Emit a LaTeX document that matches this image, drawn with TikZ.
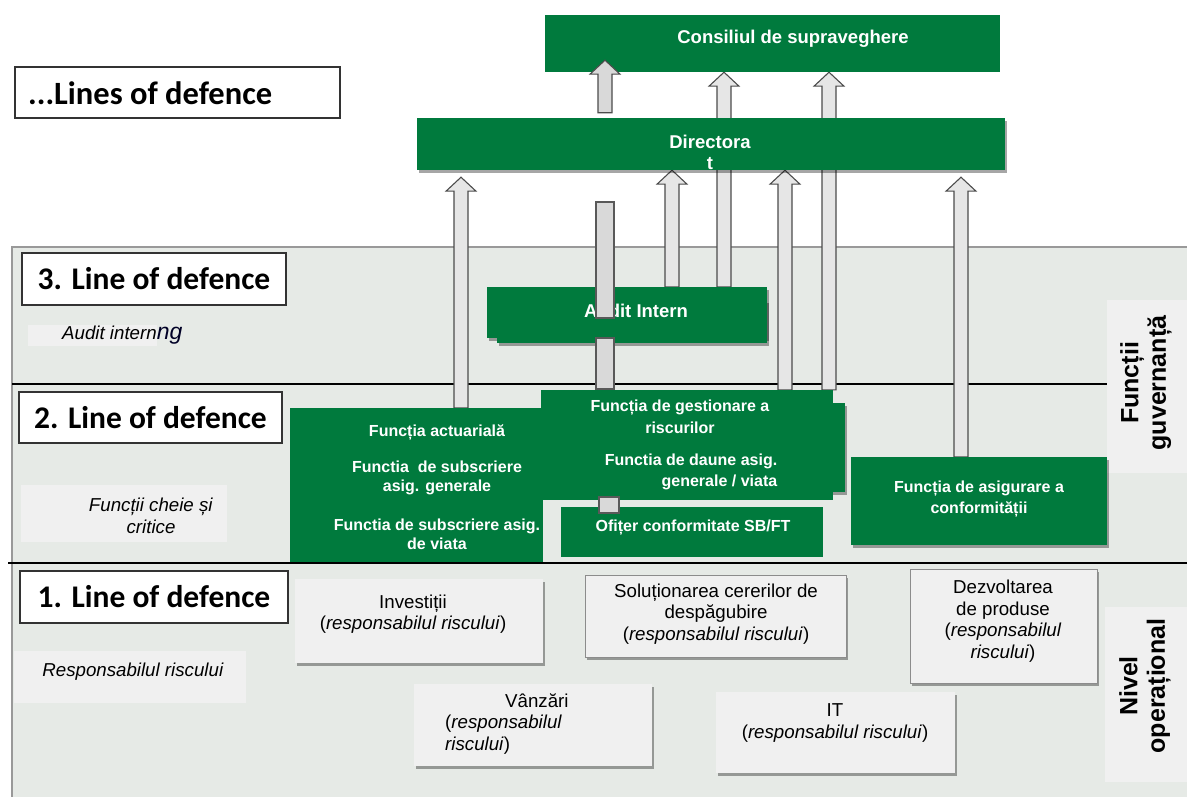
\documentclass[tikz,border=0pt]{standalone}
\usepackage{fontspec}
\setmainfont{Liberation Sans}
\newfontfamily\calib{Carlito}
\usetikzlibrary{calc,shadows}
\definecolor{ldgreen}{HTML}{007A3D}
\definecolor{panelgray}{HTML}{E6EAE6}
\definecolor{lblgray}{HTML}{F0F0F0}
\definecolor{shaftgray}{HTML}{E6E6E6}
\pgfdeclarelayer{panel}
\pgfdeclarelayer{arrows}
\pgfsetlayers{panel,arrows,main}
% block arrow: [style]{x}{from}{to}{from gap}{tip gap}
\newcommand\blkarrow[6][]{%
	\draw[blkarr,#1] let \p1=(#3.north), \p2=(#4.south) in
		({(#2-7)*1pt},{\y1+(#5)*1pt}) -- ({(#2-7)*1pt},{\y2-(#6+14)*1pt}) -- ({(#2-15)*1pt},{\y2-(#6+14)*1pt})
		-- ({#2*1pt},{\y2-(#6)*1pt}) -- ({(#2+15)*1pt},{\y2-(#6+14)*1pt}) -- ({(#2+7)*1pt},{\y2-(#6+14)*1pt})
		-- ({(#2+7)*1pt},{\y1+(#5)*1pt}) -- cycle;}
\begin{document}
\begin{tikzpicture}[x=1pt,y=-1pt,line join=miter,
		box/.style 2 args={minimum width=#1pt,minimum height=#2pt,inner sep=0},
		gr/.style={fill=ldgreen},
		lbl/.style={fill=lblgray},
		shd/.style={drop shadow={shadow xshift=2pt,shadow yshift=-3pt,fill=black,opacity=.35}},
		lodbox/.style={draw=black!80,line width=1.2pt,fill=white,font=\calib\bfseries\fontsize{31.5}{34}\selectfont},
		ttl/.style={text=white,font=\bfseries\fontsize{18.5}{21}\selectfont,align=center,inner sep=0},
		gtxt/.style={text=white,font=\bfseries\fontsize{16}{21.5}\selectfont,align=center,inner sep=0},
		btxt/.style={font=\fontsize{18.7}{21.5}\selectfont,align=center,inner sep=0},
		side/.style={rotate=90,font=\bfseries\fontsize{25}{27.5}\selectfont,align=center,inner sep=0},
		blkarr/.style={fill=shaftgray,draw=black!70,line width=1.1pt},
		barst/.style={fill=black!15,draw=black!65,line width=1.2pt}]
	\useasboundingbox (0,0) rectangle (1187,797);
	\begin{pgfonlayer}{panel}
		\fill[panelgray] (12,247) rectangle (1187,797);
		\draw[black!40,line width=1.5pt] (12,797) -- (12,247) -- (1187,247);
		\draw[line width=2pt] (12,384) -- (1107,384);
		\draw[line width=2pt] (8,563) -- (1187,563);
	\end{pgfonlayer}

	% board and management
	\node[gr,box={455}{57}] (cons) at (772.5,43.5) {};
	\node[ttl] (consT) at (793,39) {Consiliul de supraveghere};
	\node[gr,shd,box={588}{52}] (dir) at (711,144) {};
	\node[ttl] (dirT) at (710,152) {Directora\\t};

	% line labels
	\node[lodbox,box={325}{51}] (lod) at (177.5,92.5) {};
	\node[font=\calib\bfseries\fontsize{32.5}{34}\selectfont,anchor=west,inner sep=0] (lodT) at (28,93) {...Lines of defence};
	\node[lodbox,box={264}{52}] (lod3) at (154,279) {3. Line of defence};
	\node[lodbox,box={263}{51}] (lod2) at (150.5,417.5) {2. Line of defence};
	\node[lodbox,box={268}{52}] (lod1) at (154,597) {1. Line of defence};
	\node[lbl,box={129}{21}] (auditlbl) at (92.5,335.5) {};
	\node[btxt,anchor=west] (auditlblT) at (62,335) {\textit{Audit intern}{\fontsize{23}{23}\selectfont\color{black!85!blue}\textit{ng}}};
	\node[lbl,box={206}{57}] (cheie) at (124,513.5) {};
	\node[btxt] (cheieT) at (151,516) {\textit{Funcții cheie și}\\\textit{critice}};
	\node[lbl,box={232}{52}] (resp) at (130,677) {};
	\node[btxt] (respT) at (133,672) {\textit{Responsabilul riscului}};
	\node[lbl,box={80}{173}] (guv) at (1147,386.5) {};
	\node[side] (guvT) at (1146,383) {Funcții\\guvernanță};
	\node[lbl,box={82}{175}] (nivel) at (1146,694.5) {};
	\node[side] (nivelT) at (1145,686) {Nivel\\operațional};

	% 3rd and 2nd line
	\node[gr,shd,box={280}{51}] (audit) at (627,312.5) {};
	\node[gr,shd,box={270}{43}] (auditlo) at (632,321.5) {};
	\node[ttl] (auditT) at (636,311) {Audit Intern};
	\node[gr,box={253}{154}] (actuar) at (416.5,485) {};
	\node[gtxt] (act1) at (437,432) {Funcția actuarială};
	\node[gtxt,font=\bfseries\fontsize{16}{19}\selectfont] (act2) at (437,478) {Functia\ \ de subscriere\\asig. generale};
	\node[gtxt,font=\bfseries\fontsize{16}{19}\selectfont] (act3) at (437,534) {Functia de subscriere asig.\\de viata};
	\node[gr,shd,box={285}{89}] (gestlo) at (702.5,447.5) {};
	\node[gr,box={292}{110}] (gest) at (687,445) {};
	\node[gtxt] (gestT1) at (680,417) {Funcția de gestionare a\\riscurilor};
	\node[gtxt,align=right] (gestT2) at (691,472) {Functia de daune asig.\\generale / viata};
	\node[gr,box={262}{50}] (ofiter) at (692,532) {};
	\node[gtxt] (ofiterT) at (693,528) {Ofițer conformitate SB/FT};
	\node[gr,shd,box={256}{88}] (conf) at (979,501) {};
	\node[gtxt] (confT) at (979,499) {Funcția de asigurare a\\conformității};

	% 1st line
	\node[lbl,shd,box={248}{84}] (invest) at (419,621) {};
	\node[btxt] (investT) at (413,614) {Investiții\\(\textit{responsabilul riscului})};
	\node[lbl,shd,draw=black!45,box={261}{82}] (solut) at (715.5,616) {};
	\node[btxt] (solutT) at (716,614) {Soluționarea cererilor de\\despăgubire\\(\textit{responsabilul riscului})};
	\node[lbl,shd,draw=black!45,box={187}{114}] (dezv) at (1003.5,626) {};
	\node[btxt] (dezvT) at (1003,621) {Dezvoltarea\\de produse\\(\textit{responsabilul}\\\textit{riscului})};
	\node[lbl,shd,box={238}{82}] (vanz) at (533,725) {};
	\node[btxt,align=left,anchor=west] (vanzT) at (445,724) {\hspace*{60pt}Vânzări\\(\textit{responsabilul}\\\textit{riscului})};
	\node[lbl,shd,box={239}{81}] (itbox) at (835.5,732.5) {};
	\node[btxt] (itT) at (835,723) {IT\\(\textit{responsabilul riscului})};

	% reporting arrows
	\begin{pgfonlayer}{arrows}
		\blkarrow{461}{actuar}{dir}{0}{7}
		\blkarrow{672}{audit}{dir}{0}{0}
		\blkarrow{785}{gest}{dir}{0}{0}
		\blkarrow{961}{conf}{dir}{0}{7}
		\blkarrow{724}{audit}{cons}{0}{0}
		\blkarrow{829}{gest}{cons}{0}{0}
	\end{pgfonlayer}
	\blkarrow[fill=black!15]{605}{dir}{cons}{5}{-12}
	\draw[barst] (596,202) rectangle (614,318);
	\draw[barst] (596,338) rectangle (614,389);
	\draw[barst] (599,497) rectangle (619,513);
\end{tikzpicture}
\end{document}
